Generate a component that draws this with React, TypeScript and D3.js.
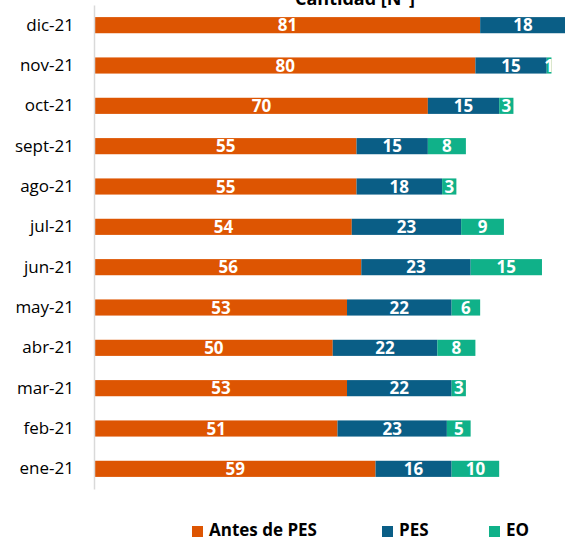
import React, { useEffect, useRef } from 'react';
import * as d3 from 'd3';

const months = ["dic-21", "nov-21", "oct-21", "sept-21", "ago-21", "jul-21", "jun-21", "may-21", "abr-21", "mar-21", "feb-21", "ene-21"];
const antesPes = [81, 80, 70, 55, 55, 54, 56, 53, 50, 53, 51, 59];
const pes = [18, 15, 15, 15, 18, 23, 23, 22, 22, 22, 23, 16];
const eo = [0, 1, 3, 8, 3, 9, 15, 6, 8, 3, 5, 10];
const seriesNames = ["Antes de PES", "PES", "EO"];
const colors = ["#DD5502", "#0A5E86", "#10B189"];

const App = () => {
    const ref = useRef<SVGSVGElement>(null);

    useEffect(() => {
        document.body.style.margin = "0";
        const width = 565;
        const height = 539;
        const svg = d3.select(ref.current);
        svg.selectAll("*").remove();

        const values = [antesPes, pes, eo];
        const rows = months.map((m, i) => ({ month: m, vals: values.map(v => v[i]) }));

        const x = d3.scaleLinear().domain([0, 100]).range([95, 95 + 100 * 4.755]);
        const y = d3.scaleBand().domain(months).range([5, 489]).paddingInner(0.6).paddingOuter(0.3);

        // title (partly cut off at the top)
        svg.append("text")
            .attr("x", 355).attr("y", 5)
            .attr("text-anchor", "middle")
            .attr("font-family", "Open Sans")
            .attr("font-weight", "bold")
            .attr("font-size", 18)
            .attr("fill", "#000")
            .text("Cantidad [N°]");

        // bars
        rows.forEach(r => {
            let acc = 0;
            r.vals.forEach((v, k) => {
                const x0 = acc;
                acc += v;
                if (v <= 0) return;
                svg.append("rect")
                    .attr("x", x(x0))
                    .attr("y", y(r.month)!)
                    .attr("width", x(acc) - x(x0))
                    .attr("height", y.bandwidth())
                    .attr("fill", colors[k]);
                svg.append("text")
                    .attr("x", (x(x0) + x(acc)) / 2)
                    .attr("y", y(r.month)! + y.bandwidth() / 2)
                    .attr("dy", "0.36em")
                    .attr("text-anchor", "middle")
                    .attr("font-family", "Open Sans")
                    .attr("font-weight", "bold")
                    .attr("font-size", 17)
                    .attr("fill", "#fff")
                    .text(v);
            });
        });

        // category axis
        const axis = svg.append("g")
            .attr("transform", "translate(94,0)")
            .call(d3.axisLeft(y).tickSize(0).tickPadding(20));
        axis.select(".domain").attr("stroke", "#d9d9d9").attr("stroke-width", 1.5);
        axis.selectAll("text")
            .attr("font-family", "Open Sans")
            .attr("font-size", 17)
            .attr("fill", "#000");

        // legend
        const legendX = [192, 382, 489];
        seriesNames.forEach((name, k) => {
            svg.append("rect")
                .attr("x", legendX[k]).attr("y", 526)
                .attr("width", 11).attr("height", 11)
                .attr("fill", colors[k]);
            svg.append("text")
                .attr("x", legendX[k] + 17).attr("y", 536)
                .attr("font-family", "Open Sans")
                .attr("font-weight", "bold")
                .attr("font-size", 17)
                .attr("fill", "#000")
                .text(name);
        });

        svg.attr("width", width).attr("height", height);
    }, []);

    return <svg ref={ref} width={565} height={539} style={{ display: "block" }}></svg>;
};

export default App;
